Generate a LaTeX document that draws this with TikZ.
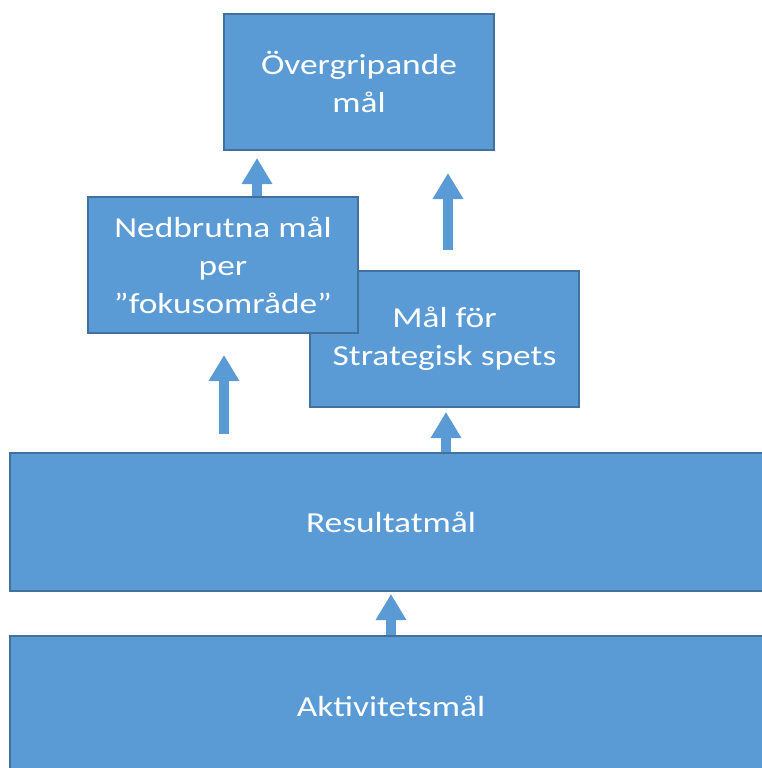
\documentclass[tikz,border=0pt]{standalone}
\usepackage{fontspec}
\setmainfont[FakeStretch=1.22]{Carlito}
\usetikzlibrary{arrows.meta}
\definecolor{boxfill}{HTML}{5B9BD5}
\definecolor{boxline}{HTML}{41719C}
\tikzset{
  goalbox/.style={draw=boxline, fill=boxfill, line width=2pt, rectangle, inner sep=0pt,
    text=white, align=center, font=\fontsize{29}{38}\selectfont},
  uparrow/.style={draw=boxfill, line width=10pt, -{Triangle[width=29pt,length=26pt]}},
}
\begin{document}
\begin{tikzpicture}[x=1pt,y=-1pt]
\useasboundingbox (0,0) rectangle (762,768);
\clip (0,0) rectangle (762,768);
\node[goalbox, minimum width=270pt, minimum height=136pt] (over) at (359,82) {Övergripande\\mål};
\node[goalbox, minimum width=269pt, minimum height=136pt] (mal) at (444.5,339) {Mål för\\Strategisk spets};
\node[goalbox, minimum width=270pt, minimum height=136pt] (ned) at (223,265) {Nedbrutna mål\\per\\”fokusområde”};
\node[goalbox, minimum width=762pt, minimum height=138pt] (res) at (391,522) {Resultatmål};
\node[goalbox, minimum width=762pt, minimum height=144pt, text depth=0pt] (akt) at (391,708) {};
\node[text=white, font=\fontsize{29}{38}\selectfont] (akttext) at (391,706) {Aktivitetsmål};
\coordinate (a2s) at (448,250);
\coordinate (a2e) at (448,173);
\coordinate (a3s) at (224,434);
\coordinate (a3e) at (224,355);
\draw[uparrow] (ned.north -| 257,0) -- ([yshift=-7pt]over.south -| 257,0);
\draw[uparrow] (a2s) -- (a2e);
\draw[uparrow] (a3s) -- (a3e);
\draw[uparrow] (res.north -| 446,0) -- ([yshift=-4pt]mal.south -| 446,0);
\draw[uparrow] (akt.north -| 391,0) -- ([yshift=-2pt]res.south -| 391,0);
\end{tikzpicture}
\end{document}
